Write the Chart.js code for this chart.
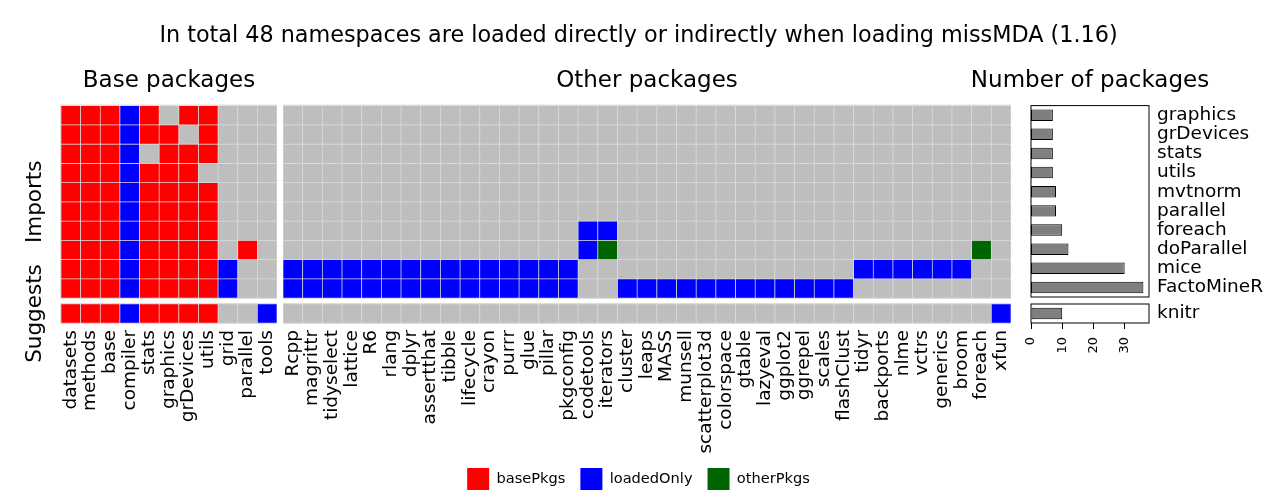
<!DOCTYPE html>
<html>
<head>
<meta charset="utf-8">
<script src="https://cdn.jsdelivr.net/npm/chart.js@4.4.1/dist/chart.umd.min.js"></script>
<style>
  body { margin: 0; background: #fff; width: 1277px; height: 502px; overflow: hidden; position: relative; }
  .box { position: absolute; }
</style>
</head>
<body>
<div class="box" style="left:0;top:0;width:1277px;height:502px"><canvas id="frame"></canvas></div>
<div class="box" style="left:0;top:60px;width:277px;height:240px"><canvas id="baseImp"></canvas></div>
<div class="box" style="left:283px;top:60px;width:728px;height:240px"><canvas id="otherImp"></canvas></div>
<div class="box" style="left:903px;top:60px;width:374px;height:240px"><canvas id="barImp"></canvas></div>
<div class="box" style="left:0;top:240px;width:277px;height:230px"><canvas id="baseSug"></canvas></div>
<div class="box" style="left:283px;top:240px;width:728px;height:230px"><canvas id="otherSug"></canvas></div>
<div class="box" style="left:903px;top:240px;width:374px;height:230px"><canvas id="barSug"></canvas></div>

<script>
// --- data ---
const titleText = "In total 48 namespaces are loaded directly or indirectly when loading missMDA (1.16)";

const baseCols = ["datasets", "methods", "base", "compiler", "stats", "graphics", "grDevices", "utils", "grid", "parallel", "tools"];
const otherCols = ["Rcpp", "magrittr", "tidyselect", "lattice", "R6", "rlang", "dplyr", "assertthat", "tibble", "lifecycle",
  "crayon", "purrr", "glue", "pillar", "pkgconfig", "codetools", "iterators", "cluster", "leaps", "MASS",
  "munsell", "scatterplot3d", "colorspace", "gtable", "lazyeval", "ggplot2", "ggrepel", "scales", "flashClust", "tidyr",
  "backports", "nlme", "vctrs", "generics", "broom", "foreach", "xfun"];

const importPkgs = ["graphics", "grDevices", "stats", "utils", "mvtnorm", "parallel", "foreach", "doParallel", "mice", "FactoMineR"];
const suggestPkgs = ["knitr"];

// 0 = not loaded, 1 = basePkgs, 2 = loadedOnly, 3 = otherPkgs
const typeNames = ["none", "basePkgs", "loadedOnly", "otherPkgs"];
const typeColors = ["#bebebe", "#ff0000", "#0000ff", "#006400"];

const baseImports = [
  [1, 1, 1, 2, 1, 0, 1, 1, 0, 0, 0],
  [1, 1, 1, 2, 1, 1, 0, 1, 0, 0, 0],
  [1, 1, 1, 2, 0, 1, 1, 1, 0, 0, 0],
  [1, 1, 1, 2, 1, 1, 1, 0, 0, 0, 0],
  [1, 1, 1, 2, 1, 1, 1, 1, 0, 0, 0],
  [1, 1, 1, 2, 1, 1, 1, 1, 0, 0, 0],
  [1, 1, 1, 2, 1, 1, 1, 1, 0, 0, 0],
  [1, 1, 1, 2, 1, 1, 1, 1, 0, 1, 0],
  [1, 1, 1, 2, 1, 1, 1, 1, 2, 0, 0],
  [1, 1, 1, 2, 1, 1, 1, 1, 2, 0, 0]
];
const baseSuggests = [
  [1, 1, 1, 2, 1, 1, 1, 1, 0, 0, 2]
];

const otherImports = [
  [0,0,0,0,0,0,0,0,0,0, 0,0,0,0,0,0,0,0,0,0, 0,0,0,0,0,0,0,0,0,0, 0,0,0,0,0,0,0],
  [0,0,0,0,0,0,0,0,0,0, 0,0,0,0,0,0,0,0,0,0, 0,0,0,0,0,0,0,0,0,0, 0,0,0,0,0,0,0],
  [0,0,0,0,0,0,0,0,0,0, 0,0,0,0,0,0,0,0,0,0, 0,0,0,0,0,0,0,0,0,0, 0,0,0,0,0,0,0],
  [0,0,0,0,0,0,0,0,0,0, 0,0,0,0,0,0,0,0,0,0, 0,0,0,0,0,0,0,0,0,0, 0,0,0,0,0,0,0],
  [0,0,0,0,0,0,0,0,0,0, 0,0,0,0,0,0,0,0,0,0, 0,0,0,0,0,0,0,0,0,0, 0,0,0,0,0,0,0],
  [0,0,0,0,0,0,0,0,0,0, 0,0,0,0,0,0,0,0,0,0, 0,0,0,0,0,0,0,0,0,0, 0,0,0,0,0,0,0],
  [0,0,0,0,0,0,0,0,0,0, 0,0,0,0,0,2,2,0,0,0, 0,0,0,0,0,0,0,0,0,0, 0,0,0,0,0,0,0],
  [0,0,0,0,0,0,0,0,0,0, 0,0,0,0,0,2,3,0,0,0, 0,0,0,0,0,0,0,0,0,0, 0,0,0,0,0,3,0],
  [2,2,2,2,2,2,2,2,2,2, 2,2,2,2,2,0,0,0,0,0, 0,0,0,0,0,0,0,0,0,2, 2,2,2,2,2,0,0],
  [2,2,2,2,2,2,2,2,2,2, 2,2,2,2,2,0,0,2,2,2, 2,2,2,2,2,2,2,2,2,0, 0,0,0,0,0,0,0]
];
const otherSuggests = [
  [0,0,0,0,0,0,0,0,0,0, 0,0,0,0,0,0,0,0,0,0, 0,0,0,0,0,0,0,0,0,0, 0,0,0,0,0,0,2]
];

const importCounts = [7, 7, 7, 7, 8, 8, 10, 12, 30, 36];
const suggestCounts = [10];
const countTicks = [0, 10, 20, 30];

// --- style ---
Chart.defaults.font.family = "'DejaVu Sans', sans-serif";
Chart.defaults.color = "#000";
Chart.defaults.animation = false;

const CELL_LINE = "#dcdcdc";

// light grey panel behind the tiles
const panelBg = {
  id: "panelBg",
  beforeDatasetsDraw(chart, args, opts) {
    if (!opts.color) return;
    const { ctx, chartArea: a } = chart;
    ctx.save();
    ctx.fillStyle = opts.color;
    ctx.fillRect(a.left - 1, a.top - 1, a.right - a.left + 2, a.bottom - a.top + 2);
    ctx.restore();
  }
};

// black frame round the bar panels
const frameBox = {
  id: "frameBox",
  afterDatasetsDraw(chart, args, opts) {
    if (!opts.on) return;
    const { ctx, chartArea: a } = chart;
    ctx.save();
    ctx.strokeStyle = "#000";
    ctx.lineWidth = 1;
    ctx.strokeRect(a.left, a.top, a.right - a.left, a.bottom - a.top);
    ctx.restore();
  }
};

function panelTitle(text, fullSize) {
  return {
    display: !!text, text: text || "", fullSize: !!fullSize,
    font: { size: 23, weight: "normal" },
    padding: { top: 7, bottom: 11 }
  };
}

// fixed-height bottom axis, without the extra side padding for rotated labels
function fixBottom(show) {
  return s => {
    if (!show) return;
    s.height = 147;
    s.paddingLeft = 0;
    s.paddingRight = 0;
  };
}

function heatmap(id, cols, rows, cells, o) {
  const n = rows.length;
  const datasets = rows.map((name, r) => ({
    label: name,
    data: cells[r].map(() => [n - 1 - r, n - r]),
    backgroundColor: cells[r].map(v => typeColors[v]),
    borderColor: CELL_LINE,
    borderWidth: 0.7,
    borderSkipped: false,
    barPercentage: 1,
    categoryPercentage: 1,
    grouped: false
  }));

  return new Chart(document.getElementById(id), {
    type: "bar",
    data: { labels: cols, datasets },
    plugins: [panelBg],
    options: {
      responsive: true,
      maintainAspectRatio: false,
      layout: { padding: o.padding || 0 },
      scales: {
        x: {
          display: !!o.showCols,
          grid: { display: false, drawTicks: false },
          border: { display: false },
          ticks: { autoSkip: false, minRotation: 90, maxRotation: 90, padding: 7, font: { size: 18.5 } },
          afterFit: fixBottom(o.showCols)
        },
        y: {
          type: "linear", min: 0, max: n,
          display: !!o.rowTitle,
          grid: { display: false, drawTicks: false },
          border: { display: false },
          ticks: { display: false },
          title: { display: !!o.rowTitle, text: o.rowTitle || "", font: { size: 21.5 }, padding: { top: 23, bottom: 0 } },
          afterFit: s => { if (o.rowTitle) s.width = 61; }
        }
      },
      plugins: {
        panelBg: { color: CELL_LINE },
        legend: { display: false },
        tooltip: { enabled: false },
        title: panelTitle(o.title, false)
      }
    }
  });
}

function countBars(id, rows, counts, o) {
  return new Chart(document.getElementById(id), {
    type: "bar",
    data: {
      labels: rows,
      datasets: [{
        label: "Number of packages",
        data: counts,
        backgroundColor: "#7f7f7f",
        borderColor: "#000",
        borderWidth: 1,
        borderSkipped: false,
        barPercentage: 0.6,
        categoryPercentage: 1
      }]
    },
    plugins: [frameBox],
    options: {
      indexAxis: "y",
      responsive: true,
      maintainAspectRatio: false,
      layout: { padding: o.padding || 0 },
      scales: {
        x: {
          type: "linear", min: 0, max: 37.8,
          display: !!o.showTicks,
          grid: { display: true, drawOnChartArea: false, drawTicks: true, tickLength: 6, color: "#000" },
          border: { display: false },
          afterBuildTicks: s => { s.ticks = countTicks.map(v => ({ value: v })); },
          ticks: { minRotation: 90, maxRotation: 90, padding: 8, font: { size: 13 } },
          afterFit: fixBottom(o.showTicks)
        },
        y: {
          position: "right",
          grid: { display: false, drawTicks: false },
          border: { display: false },
          ticks: { autoSkip: false, padding: 8, font: { size: 18.5 } },
          afterFit: s => {
            s.width = 128;
            s.paddingTop = 0;
            s.paddingBottom = 0;
          }
        },
        // empty axis on the left so the panel title centres over the bars
        yLeft: {
          type: "category", position: "left", labels: rows,
          grid: { display: false, drawTicks: false },
          border: { display: false },
          ticks: { display: false },
          afterFit: s => { s.width = 128; }
        }
      },
      plugins: {
        frameBox: { on: true },
        legend: { display: false },
        tooltip: { enabled: false },
        title: panelTitle(o.title, true)
      }
    }
  });
}

// --- page frame: main title and legend ---
new Chart(document.getElementById("frame"), {
  type: "bar",
  data: {
    labels: [],
    datasets: typeNames.slice(1).map((name, i) => ({
      label: name, data: [], backgroundColor: typeColors[i + 1], borderWidth: 0
    }))
  },
  options: {
    responsive: true,
    maintainAspectRatio: false,
    layout: { padding: { bottom: 2 } },
    scales: { x: { display: false }, y: { display: false } },
    plugins: {
      title: { display: true, text: titleText, font: { size: 22.3, weight: "normal" }, padding: { top: 23, bottom: 0 } },
      legend: {
        position: "bottom",
        labels: { boxWidth: 22, boxHeight: 22, padding: 15, font: { size: 14.6 } }
      },
      tooltip: { enabled: false }
    }
  }
});

// --- panels ---
heatmap("baseImp", baseCols, importPkgs, baseImports, { title: "Base packages", rowTitle: "Imports", padding: { bottom: 2 } });
heatmap("otherImp", otherCols, importPkgs, otherImports, { title: "Other packages", padding: { bottom: 2 } });
countBars("barImp", importPkgs, importCounts, { title: "Number of packages", padding: { bottom: 3 } });

heatmap("baseSug", baseCols, suggestPkgs, baseSuggests, { rowTitle: "Suggests", showCols: true, padding: { top: 64 } });
heatmap("otherSug", otherCols, suggestPkgs, otherSuggests, { showCols: true, padding: { top: 64 } });
countBars("barSug", suggestPkgs, suggestCounts, { showTicks: true, padding: { top: 64 } });
</script>
</body>
</html>
